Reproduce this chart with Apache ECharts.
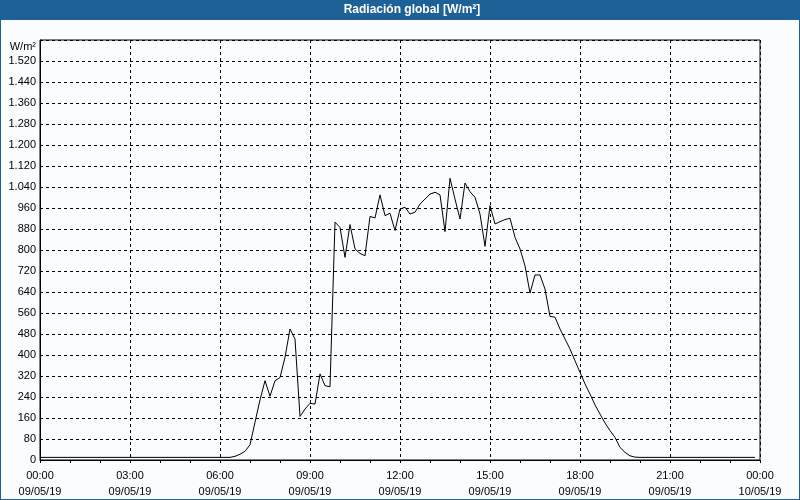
<!DOCTYPE html>
<html><head><meta charset="utf-8">
<script src="https://cdn.jsdelivr.net/npm/echarts@6/dist/echarts.min.js"></script>
<style>html,body{margin:0;padding:0;background:#fafcfd}#c{width:800px;height:500px}</style>
</head><body><div id="c"></div>
<script>
const chartTitle = 'Radiación global [W/m²]';
const unitLabel = 'W/m²';
const xTickTimes = ['00:00','03:00','06:00','09:00','12:00','15:00','18:00','21:00','00:00'];
const xTickDates = ['09/05/19','09/05/19','09/05/19','09/05/19','09/05/19','09/05/19','09/05/19','09/05/19','10/05/19'];
const times = [
'00:00','00:10','00:20','00:30','00:40','00:50','01:00','01:10','01:20','01:30','01:40','01:50',
'02:00','02:10','02:20','02:30','02:40','02:50','03:00','03:10','03:20','03:30','03:40','03:50',
'04:00','04:10','04:20','04:30','04:40','04:50','05:00','05:10','05:20','05:30','05:40','05:50',
'06:00','06:10','06:20','06:30','06:40','06:50','07:00','07:10','07:20','07:30','07:40','07:50',
'08:00','08:10','08:20','08:30','08:40','08:50','09:00','09:10','09:20','09:30','09:40','09:50',
'10:00','10:10','10:20','10:30','10:40','10:50','11:00','11:10','11:20','11:30','11:40','11:50',
'12:00','12:10','12:20','12:30','12:40','12:50','13:00','13:10','13:20','13:30','13:40','13:50',
'14:00','14:10','14:20','14:30','14:40','14:50','15:00','15:10','15:20','15:30','15:40','15:50',
'16:00','16:10','16:20','16:30','16:40','16:50','17:00','17:10','17:20','17:30','17:40','17:50',
'18:00','18:10','18:20','18:30','18:40','18:50','19:00','19:10','19:20','19:30','19:40','19:50',
'20:00','20:10','20:20','20:30','20:40','20:50','21:00','21:10','21:20','21:30','21:40','21:50',
'22:00','22:10','22:20','22:30','22:40','22:50','23:00','23:10','23:20','23:30','23:40','23:50'
];
const radiation = [
10,10,10,10,10,10,10,10,10,10,10,10,
10,10,10,10,10,10,10,10,10,10,10,10,
10,10,10,10,10,10,10,10,10,10,10,10,
10,10,10,14,22,33,58,144,229,302,243,302,
314,391,499,461,166,194,216,213,328,283,279,906,
886,772,897,804,787,778,928,922,1010,931,940,874,
956,963,937,944,975,994,1013,1020,1010,870,1073,994,
918,1055,1022,1001,937,814,969,899,908,916,921,848,
804,740,636,705,705,651,547,544,499,461,423,378,
334,290,251,210,175,141,112,86,48,29,16,11,
10,10,10,10,10,10,10,10,10,10,10,10,
10,10,10,10,10,10,10,10,10,10,10,10
];

function toHours(t){ const p=t.split(':'); return +p[0] + (+p[1])/60; }
const seriesData = times.map((t,i)=>[toHours(t), radiation[i]]);

const chart = echarts.init(document.getElementById('c'), null, {renderer:'canvas'});
const FONT = '"Liberation Sans", Arial, sans-serif';
chart.setOption({
  animation:false,
  backgroundColor:'#fafcfd',
  graphic:[
    {type:'rect', shape:{x:0,y:0,width:800,height:20}, style:{fill:'#1d6296'}, silent:true, z:-1},
    {type:'rect', shape:{x:0,y:0,width:1,height:500}, style:{fill:'#1d6296'}, silent:true},
    {type:'rect', shape:{x:799,y:0,width:1,height:500}, style:{fill:'#1d6296'}, silent:true},
    {type:'rect', shape:{x:0,y:499,width:800,height:1}, style:{fill:'#1d6296'}, silent:true},
    {type:'text', x:412, y:10, style:{text:chartTitle, fill:'#ffffff', font:'bold 12px '+FONT, align:'center', verticalAlign:'middle'}, silent:true}
  ],
  grid:{left:40, right:40, top:40, bottom:39, show:true, borderColor:'#000', borderWidth:1, backgroundColor:'transparent'},
  xAxis:{
    type:'value', min:0, max:24, interval:3,
    axisLine:{show:true, lineStyle:{color:'#000', width:1}},
    axisTick:{show:true, length:3, lineStyle:{color:'#000'}},
    minorTick:{show:true, splitNumber:3, length:3, lineStyle:{color:'#000'}},
    splitLine:{show:true, lineStyle:{color:'#000', type:[3,3], width:1}},
    axisLabel:{
      margin:8, color:'#000', fontFamily:FONT, fontSize:11, lineHeight:16,
      formatter:function(v){ const i=Math.round(v/3); return xTickTimes[i]+'\n'+xTickDates[i]; }
    }
  },
  yAxis:{
    type:'value', min:0, max:1600, interval:80,
    name:unitLabel, nameLocation:'end', nameGap:0,
    nameTextStyle:{color:'#000', fontFamily:FONT, fontSize:11, align:'right', verticalAlign:'top', padding:[1,4,0,0]},
    axisLine:{show:true, lineStyle:{color:'#000', width:1}},
    axisTick:{show:false},
    splitLine:{show:true, lineStyle:{color:'#000', type:[3,3], width:1}},
    axisLabel:{
      margin:4, color:'#000', fontFamily:FONT, fontSize:11,
      formatter:function(v){ if(v>=1600) return ''; return String(v).replace(/\B(?=(\d{3})+(?!\d))/g,'.'); }
    }
  },
  series:[{
    type:'line', data:seriesData, showSymbol:false, symbol:'none',
    lineStyle:{color:'#000', width:1}, smooth:false
  }]
});
</script>
</body></html>
